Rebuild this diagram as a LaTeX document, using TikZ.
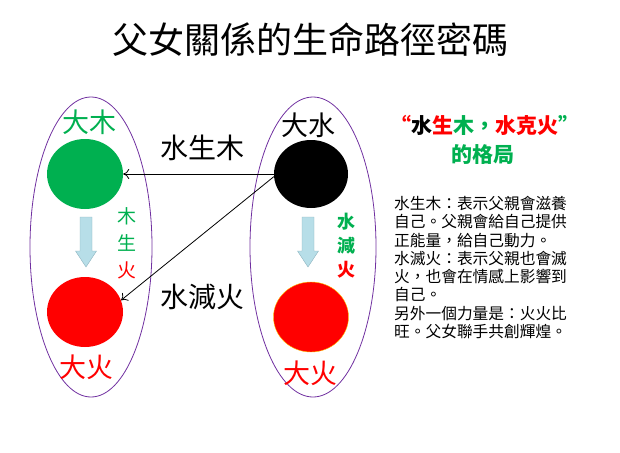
\documentclass[tikz,border=0pt]{standalone}
\usepackage{fontspec}
\setmainfont{Noto Sans CJK TC}
\usepackage{tikz}
\usetikzlibrary{arrows,arrows.meta,shapes,shapes.geometric,calc}
\usepackage{xcolor}

\definecolor{woodgreen}{HTML}{00B050}
\definecolor{firered}{HTML}{FF0000}
\definecolor{ringpurple}{HTML}{7030A0}
\definecolor{flowfill}{HTML}{B7DEE8}
\definecolor{flowline}{HTML}{8EB4C0}
\definecolor{rimgold}{HTML}{FFC000}

\newcommand{\px}[2]{\fontsize{#1}{#2}\selectfont}

\tikzset{
	ring/.style={ellipse, draw=ringpurple, line width=0.8pt, minimum width=122, minimum height=300},
	ball/.style={ellipse, minimum width=76, minimum height=70, inner sep=0},
	link/.style={-{To[length=6pt, width=10pt]}, line width=0.8pt},
	flow arrow/.pic={
		\draw[flowline, fill=flowfill, thin]
			(-6,0) -- (6,0) -- (6,34) -- (10.5,34) -- (0,50) -- (-10.5,34) -- (-6,34) -- cycle;
	}
}

\begin{document}
\begin{tikzpicture}[x=1pt, y=-1pt]

		% === page bounds ===
		\useasboundingbox (0,0) rectangle (620,452);

		% === Title ===
		\node[font=\px{36}{40}] (title) at (310,40) {父女關係的生命路徑密碼};

		% === Left ring: wood and fire ===
		\node[ring] (leftring) at (91,247) {};
		\node[ball, fill=woodgreen] (wood) at (85,174) {};
		\node[ball, fill=firered] (fire) at (85,312) {};
		\node[font=\px{27}{30}, text=woodgreen] (woodlbl) at (89,122) {大木};
		\node[font=\px{27}{30}, text=firered] (firelbl) at (86,367) {大火};
		\pic at (86,217) {flow arrow};
		\node[font=\px{19}{27}, align=center, inner sep=0] (woodfire) at (127,243)
			{\textcolor{woodgreen}{木}\\\textcolor{woodgreen}{生}\\\textcolor{firered}{火}};

		% === Right ring: water and fire ===
		\node[ring, minimum width=126] (rightring) at (313,247) {};
		\node[ball, minimum width=74, minimum height=68, fill=black] (water) at (311,174) {};
		\node[ball, minimum width=75, fill=firered, draw=rimgold, thin] (fire2) at (311,317) {};
		\node[font=\px{27}{30}] (waterlbl) at (308,125) {大水};
		\node[font=\px{27}{30}, text=firered] (fire2lbl) at (310,373) {大火};
		\pic at (308,217) {flow arrow};
		\node[font=\bfseries\px{18}{24}, align=center, inner sep=0] (waterfire) at (346,246)
			{\textcolor{woodgreen}{水}\\\textcolor{woodgreen}{減}\\\textcolor{firered}{火}};

		% === Connectors ===
		\draw[link] (water.west) -- (wood.east);
		\draw[link] (water.184) -- (fire.18);
		\node[font=\px{28}{30}] (feeds) at (202,148) {水生木};
		\node[font=\px{28}{30}] (quench) at (202,297) {水減火};

		% === Right-hand notes ===
		\node[font=\bfseries\px{21}{24}] (head) at (485,125)
			{\textcolor{firered}{“}水\textcolor{firered}{生}\textcolor{woodgreen}{木，}\textcolor{firered}{水克火}\textcolor{woodgreen}{”}};
		\node[font=\bfseries\px{21}{24}, text=woodgreen] (head2) at (483,155) {的格局};
		\node[font=\px{15.7}{18.3}, align=left, anchor=north west, inner sep=0] (notes) at (394,196)
			{水生木：表示父親會滋養\\
			自己。父親會給自己提供\\
			正能量，給自己動力。\\
			水滅火：表示父親也會滅\\
			火，也會在情感上影響到\\
			自己。\\
			另外一個力量是：火火比\\
			旺。父女聯手共創輝煌。};
	\end{tikzpicture}
\end{document}
